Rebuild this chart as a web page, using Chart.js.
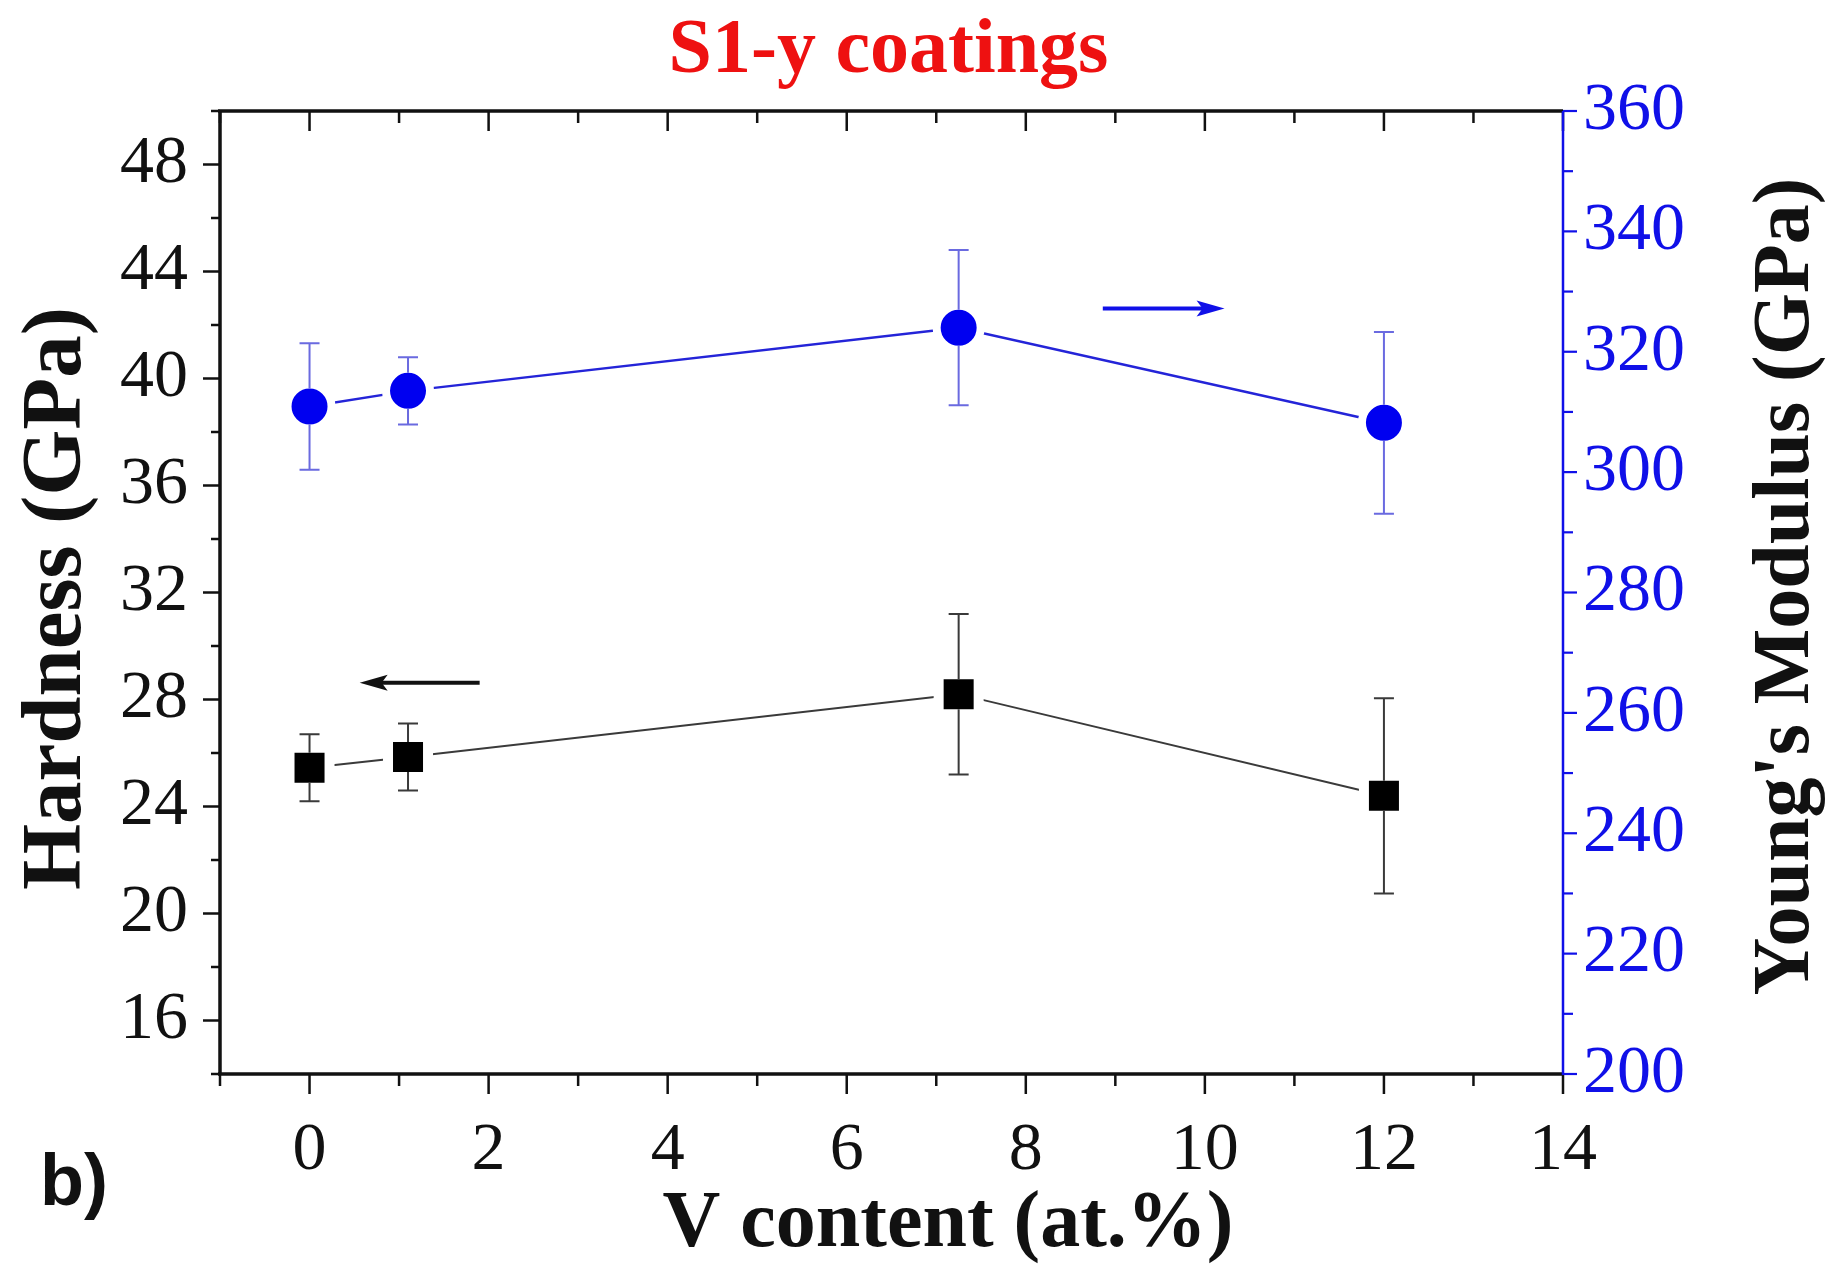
<!DOCTYPE html>
<html>
<head>
<meta charset="utf-8">
<script src="https://cdn.jsdelivr.net/npm/chart.js@4.4.1/dist/chart.umd.min.js"></script>
<style>
  html, body { margin: 0; padding: 0; background: #fff; overflow: hidden; }
  #wrap { width: 1833px; height: 1270px; position: relative; }
</style>
</head>
<body>
<div id="wrap"><canvas id="c"></canvas></div>
<script>
// V content of the S1-y coatings (at.%)
const vContent = [0, 1.1, 7.25, 12];
// Nanoindentation hardness (GPa) and its standard deviation
const hardness = [25.45, 25.85, 28.2, 24.4];
const hardnessErr = [1.25, 1.25, 3.0, 3.65];
// Young's modulus (GPa) and its standard deviation
const modulus = [310.9, 313.5, 324.0, 308.2];
const modulusErr = [10.5, 5.6, 12.9, 15.1];

// Labelled tick values
const xTickLabels = [0, 2, 4, 6, 8, 10, 12, 14];
const hardnessTickLabels = [16, 20, 24, 28, 32, 36, 40, 44, 48];
const modulusTickLabels = [200, 220, 240, 260, 280, 300, 320, 340, 360];

// Arrows telling which axis each series uses: [x tail, x head, y]
const hardnessArrow = [1.9, 0.56, 28.63];
const modulusArrow = [8.86, 10.22, 327.2];

const SERIF = "'Liberation Serif', 'Times New Roman', serif";
const BLUE = '#1010e8';

const fixedTicks = (values) => (scale) => { scale.ticks = values.map(v => ({ value: v })); };

// Error bars drawn from the marker edge out to the caps
const errorBars = {
  id: 'errorBars',
  afterDatasetsDraw(chart) {
    const ctx = chart.ctx;
    const xs = chart.scales.x;
    const sets = [
      { ys: chart.scales.yH, vals: hardness, errs: hardnessErr, color: '#3a3a3a', half: 15 },
      { ys: chart.scales.yE, vals: modulus, errs: modulusErr, color: '#6a6ae0', half: 18 }
    ];
    ctx.save();
    ctx.lineWidth = 2;
    for (const s of sets) {
      ctx.strokeStyle = s.color;
      vContent.forEach((x, i) => {
        const px = xs.getPixelForValue(x);
        const py = s.ys.getPixelForValue(s.vals[i]);
        const top = s.ys.getPixelForValue(s.vals[i] + s.errs[i]);
        const bot = s.ys.getPixelForValue(s.vals[i] - s.errs[i]);
        ctx.beginPath();
        ctx.moveTo(px, py - s.half); ctx.lineTo(px, top);
        ctx.moveTo(px, py + s.half); ctx.lineTo(px, bot);
        ctx.moveTo(px - 10, top); ctx.lineTo(px + 10, top);
        ctx.moveTo(px - 10, bot); ctx.lineTo(px + 10, bot);
        ctx.stroke();
      });
    }
    // direction arrows
    const arrow = (a, ys, color) => {
      const x0 = xs.getPixelForValue(a[0]);
      const x1 = xs.getPixelForValue(a[1]);
      const y = ys.getPixelForValue(a[2]);
      const dir = Math.sign(x1 - x0);
      ctx.strokeStyle = color; ctx.fillStyle = color; ctx.lineWidth = 4;
      ctx.beginPath(); ctx.moveTo(x0, y); ctx.lineTo(x1 - dir * 20, y); ctx.stroke();
      ctx.beginPath();
      ctx.moveTo(x1, y); ctx.lineTo(x1 - dir * 28, y - 8); ctx.lineTo(x1 - dir * 22, y);
      ctx.lineTo(x1 - dir * 28, y + 8); ctx.closePath(); ctx.fill();
    };
    arrow(hardnessArrow, chart.scales.yH, '#111');
    arrow(modulusArrow, chart.scales.yE, BLUE);
    ctx.restore();
  }
};

// Axis frame, tick marks and titles
const frame = {
  id: 'frame',
  afterDraw(chart) {
    const ctx = chart.ctx;
    const { left, right, top, bottom } = chart.chartArea;
    const xs = chart.scales.x, yH = chart.scales.yH, yE = chart.scales.yE;
    ctx.save();
    ctx.lineCap = 'butt';
    // x ticks: bottom outward, top inward
    ctx.strokeStyle = '#111'; ctx.lineWidth = 2.5;
    for (let v = -1; v <= 14; v++) {
      const p = xs.getPixelForValue(v);
      const len = v % 2 === 0 ? 20 : 12;
      ctx.beginPath();
      ctx.moveTo(p, bottom); ctx.lineTo(p, bottom + len);
      ctx.moveTo(p, top); ctx.lineTo(p, top + len);
      ctx.stroke();
    }
    // hardness ticks, outward to the left
    for (let v = 14; v <= 50; v += 2) {
      const p = yH.getPixelForValue(v);
      const len = (v % 4 === 0) ? 17 : 9;
      ctx.beginPath(); ctx.moveTo(left, p); ctx.lineTo(left - len, p); ctx.stroke();
    }
    // frame lines
    ctx.lineWidth = 3.5;
    ctx.beginPath();
    ctx.moveTo(left, top); ctx.lineTo(left, bottom);
    ctx.moveTo(left - 2, top); ctx.lineTo(right, top);
    ctx.moveTo(left - 2, bottom); ctx.lineTo(right, bottom);
    ctx.stroke();
    // modulus axis in blue, ticks outward to the right
    ctx.strokeStyle = BLUE; ctx.lineWidth = 2.5;
    ctx.beginPath(); ctx.moveTo(right, top); ctx.lineTo(right, bottom + 1); ctx.stroke();
    ctx.lineWidth = 2.2;
    for (let v = 200; v <= 360; v += 10) {
      const p = yE.getPixelForValue(v);
      const len = (v % 20 === 0) ? 14 : 10;
      ctx.beginPath(); ctx.moveTo(right, p); ctx.lineTo(right + len, p); ctx.stroke();
    }

    // titles
    ctx.textAlign = 'center';
    ctx.textBaseline = 'alphabetic';
    ctx.fillStyle = '#ee1111';
    ctx.font = `bold 78px ${SERIF}`;
    ctx.fillText('S1-y coatings', (left + right) / 2 - 3, 72);

    ctx.fillStyle = '#111';
    ctx.font = `bold 80px ${SERIF}`;
    ctx.fillText('V content (at.%)', 948, 1246);

    ctx.save();
    ctx.font = `bold 85px ${SERIF}`;
    ctx.translate(80, (top + bottom) / 2 + 6);
    ctx.rotate(-Math.PI / 2);
    ctx.fillText('Hardness (GPa)', 0, 0);
    ctx.restore();

    ctx.save();
    ctx.translate(1808, (top + bottom) / 2 - 6);
    ctx.rotate(-Math.PI / 2);
    ctx.fillText("Young's Modulus (GPa)", 0, 0);
    ctx.restore();

    ctx.textAlign = 'left';
    ctx.font = "bold 72px 'Liberation Sans', Arial, sans-serif";
    ctx.fillText('b)', 40, 1205);
    ctx.restore();
  }
};

const ctx = document.getElementById('c').getContext('2d');
new Chart(ctx, {
  type: 'scatter',
  data: {
    datasets: [
      {
        label: 'Hardness',
        data: vContent.map((x, i) => ({ x, y: hardness[i] })),
        yAxisID: 'yH',
        showLine: true,
        borderColor: '#3a3a3a',
        borderWidth: 2,
        pointStyle: 'rect',
        pointRadius: 28.3,
        pointHoverRadius: 28.3,
        pointBackgroundColor: '#000',
        pointBorderColor: '#fff',
        pointBorderWidth: 10
      },
      {
        label: "Young's Modulus",
        data: vContent.map((x, i) => ({ x, y: modulus[i] })),
        yAxisID: 'yE',
        showLine: true,
        borderColor: '#2424d8',
        borderWidth: 2.5,
        pointStyle: 'circle',
        pointRadius: 22,
        pointHoverRadius: 22,
        pointBackgroundColor: '#0000f0',
        pointBorderColor: '#fff',
        pointBorderWidth: 8
      }
    ]
  },
  options: {
    responsive: true,
    maintainAspectRatio: false,
    animation: false,
    events: [],
    layout: { padding: { top: 111, left: 0, right: 0, bottom: 0 } },
    plugins: { legend: { display: false }, tooltip: { enabled: false } },
    scales: {
      x: {
        type: 'linear', position: 'bottom', min: -1, max: 14,
        afterBuildTicks: fixedTicks(xTickLabels),
        afterFit: (s) => { s.height = 196; },
        grid: { display: false, drawTicks: false },
        border: { display: false },
        ticks: { autoSkip: false, maxRotation: 0, padding: 36, color: '#111',
                 font: { family: SERIF, size: 68 } }
      },
      yH: {
        type: 'linear', position: 'left', min: 14, max: 50,
        afterBuildTicks: fixedTicks(hardnessTickLabels),
        afterFit: (s) => { s.width = 220; },
        grid: { display: false, drawTicks: false },
        border: { display: false },
        ticks: { autoSkip: false, padding: 32, color: '#111',
                 font: { family: SERIF, size: 68 } }
      },
      yE: {
        type: 'linear', position: 'right', min: 200, max: 360,
        afterBuildTicks: fixedTicks(modulusTickLabels),
        afterFit: (s) => { s.width = 270; },
        grid: { display: false, drawTicks: false },
        border: { display: false },
        ticks: { autoSkip: false, padding: 20, color: BLUE,
                 font: { family: SERIF, size: 68 } }
      }
    }
  },
  plugins: [errorBars, frame]
});
</script>
</body>
</html>
